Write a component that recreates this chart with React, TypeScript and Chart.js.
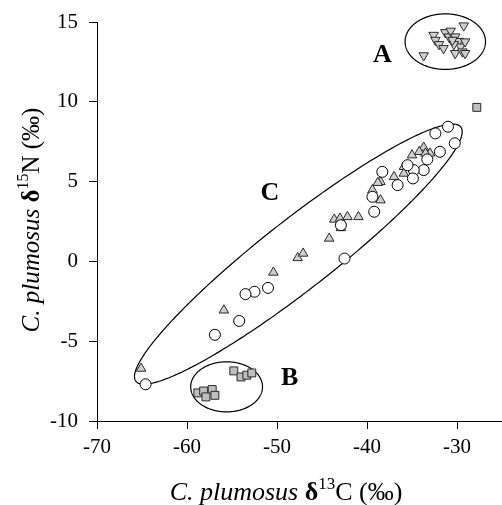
import React, { useEffect, useRef } from 'react';
import { Chart, registerables } from 'chart.js';

Chart.register(...registerables);

// Axis ticks
const xTicks = [-70, -60, -50, -40, -30];
const yTicks = [-10, -5, 0, 5, 10, 15];

// Group A: inverted triangles
const aX = [-33.7, -32.6, -32.4, -32.0, -31.5, -31.3, -30.9, -30.7, -30.2, -29.8, -29.25, -29.6, -29.1, -30.2, -29.4, -29.1, -30.35, -30.5];
const aY = [12.9, 14.18, 13.87, 13.6, 13.35, 14.35, 14.08, 14.44, 14.08, 13.8, 14.77, 13.45, 13.77, 13.04, 13.14, 13.04, 13.6, 13.87];

// Group C: open circles
const cCircX = [-31.0, -32.4, -30.25, -31.9, -33.3, -33.7, -34.8, -34.9, -35.5, -38.3, -36.6, -39.4, -39.2, -42.9, -42.5, -51.0, -52.5, -53.5, -54.2, -56.9, -64.6];
const cCircY = [8.44, 8.02, 7.4, 6.87, 6.39, 5.72, 5.72, 5.2, 6.03, 5.61, 4.78, 4.05, 3.11, 2.27, 0.18, -1.66, -1.9, -2.05, -3.73, -4.6, -7.7];

// Group C: triangles
const cTriX = [-33.7, -34.2, -35.0, -33.0, -33.5, -35.9, -35.9, -37.0, -38.5, -38.8, -39.4, -38.5, -43.64, -43.0, -42.17, -40.95, -44.2, -42.9, -47.7, -47.1, -50.4, -55.9, -65.1];
const cTriY = [7.14, 6.87, 6.66, 6.77, 6.77, 5.93, 5.51, 5.3, 4.99, 4.93, 4.47, 3.84, 2.63, 2.69, 2.79, 2.79, 1.44, 2.1, 0.22, 0.5, -0.69, -3.06, -6.71];

// Group B: squares (plus one outlier)
const bX = [-54.8, -54.0, -53.35, -52.8, -58.8, -58.15, -57.2, -57.9, -56.9, -27.8];
const bY = [-6.86, -7.24, -7.13, -6.99, -8.24, -8.12, -8.03, -8.49, -8.39, 9.65];

// Ellipses (data units): center, end of first semi-axis, end of second semi-axis
const ellipseNames = ['A', 'B', 'C'];
const ellipseCenter = [[-31.3, 13.77], [-55.6, -7.86], [-47.63, 0.455]];
const ellipseAxis1 = [[-26.83, 13.77], [-51.61, -7.86], [-29.58, 8.42]];
const ellipseAxis2 = [[-31.3, 15.51], [-55.6, -6.29], [-50.01, 2.18]];

// Group labels (data units)
const labelText = ['A', 'B', 'C'];
const labelPos = [[-38.3, 12.93], [-48.6, -7.32], [-50.8, 4.28]];

const FONT = '"Liberation Serif", "Times New Roman", serif';

const toPts = (xs: number[], ys: number[]) => xs.map((x, i) => ({ x, y: ys[i] }));

type Seg = { t: string; style?: string; weight?: string; sup?: boolean };

function drawRich(ctx: CanvasRenderingContext2D, segs: Seg[], size: number) {
  const fontOf = (s: Seg) => {
    const sz = s.sup ? Math.round(size * 0.65) : size;
    return `${s.style || 'normal'} ${s.weight || 'normal'} ${sz}px ${FONT}`;
  };
  let total = 0;
  const widths = segs.map((s) => {
    ctx.font = fontOf(s);
    const w = ctx.measureText(s.t).width;
    total += w;
    return w;
  });
  let x = -total / 2;
  segs.forEach((s, i) => {
    ctx.font = fontOf(s);
    ctx.textAlign = 'left';
    ctx.textBaseline = 'alphabetic';
    ctx.fillText(s.t, x, s.sup ? -size * 0.42 : 0);
    x += widths[i];
  });
}

const overlayPlugin = {
  id: 'overlay',
  beforeDatasetsDraw(chart: any) {
    const { ctx, scales } = chart;
    const xs = scales.x;
    const ys = scales.y;
    ctx.save();
    ctx.strokeStyle = '#000';
    ctx.lineWidth = 1.2;
    ellipseNames.forEach((_, k) => {
      const cx = xs.getPixelForValue(ellipseCenter[k][0]);
      const cy = ys.getPixelForValue(ellipseCenter[k][1]);
      const ax = xs.getPixelForValue(ellipseAxis1[k][0]) - cx;
      const ay = ys.getPixelForValue(ellipseAxis1[k][1]) - cy;
      const bx = xs.getPixelForValue(ellipseAxis2[k][0]) - cx;
      const by = ys.getPixelForValue(ellipseAxis2[k][1]) - cy;
      ctx.beginPath();
      for (let i = 0; i <= 360; i++) {
        const t = (i * Math.PI) / 180;
        const px = cx + ax * Math.cos(t) + bx * Math.sin(t);
        const py = cy + ay * Math.cos(t) + by * Math.sin(t);
        if (i === 0) ctx.moveTo(px, py);
        else ctx.lineTo(px, py);
      }
      ctx.closePath();
      ctx.stroke();
    });
    ctx.restore();
  },
  afterDraw(chart: any) {
    const { ctx, scales } = chart;
    const xs = scales.x;
    const ys = scales.y;
    ctx.save();
    ctx.fillStyle = '#000';
    ctx.font = `bold 26px ${FONT}`;
    ctx.textAlign = 'center';
    ctx.textBaseline = 'middle';
    labelText.forEach((t, k) => {
      ctx.fillText(t, xs.getPixelForValue(labelPos[k][0]), ys.getPixelForValue(labelPos[k][1]));
    });
    // X axis title
    ctx.save();
    ctx.translate(286, 500);
    drawRich(ctx, [
      { t: 'C. plumosus ', style: 'italic' },
      { t: 'δ', weight: 'bold' },
      { t: '13', sup: true },
      { t: 'C (‰)' },
    ], 26);
    ctx.restore();
    // Y axis title
    ctx.save();
    ctx.translate(38.5, 220);
    ctx.rotate(-Math.PI / 2);
    drawRich(ctx, [
      { t: 'C. plumosus ', style: 'italic' },
      { t: 'δ', weight: 'bold' },
      { t: '15', sup: true },
      { t: 'N (‰)' },
    ], 25);
    ctx.restore();
    ctx.restore();
  },
};

export default function App() {
  const ref = useRef<HTMLCanvasElement | null>(null);
  useEffect(() => {
    if (!ref.current) return;
    const triFill = '#cfcfcf';
    const edge = '#2a2a2a';
    const chart = new Chart(ref.current, {
      type: 'scatter',
      data: {
        datasets: [
          {
            label: 'C circles',
            data: toPts(cCircX, cCircY),
            pointStyle: 'circle',
            pointRadius: 5.5,
            backgroundColor: '#ffffff',
            borderColor: '#000',
            borderWidth: 1,
          },
          {
            label: 'C triangles',
            data: toPts(cTriX, cTriY),
            pointStyle: 'triangle',
            pointRadius: 5.5,
            backgroundColor: triFill,
            borderColor: edge,
            borderWidth: 1,
          },
          {
            label: 'A',
            data: toPts(aX, aY),
            pointStyle: 'triangle',
            rotation: 180,
            pointRadius: 5.5,
            backgroundColor: triFill,
            borderColor: edge,
            borderWidth: 1,
          },
          {
            label: 'B',
            data: toPts(bX, bY),
            pointStyle: 'rect',
            pointRadius: 5.6,
            backgroundColor: '#bebebe',
            borderColor: edge,
            borderWidth: 1,
          },
        ] as any,
      },
      options: {
        animation: false,
        responsive: false,
        clip: false as any,
        layout: { autoPadding: false, padding: { top: 22, right: 0, left: 0, bottom: 0 } } as any,
        plugins: {
          legend: { display: false },
          tooltip: { enabled: false },
        },
        scales: {
          x: {
            type: 'linear',
            min: -70,
            max: -25,
            afterBuildTicks: (s: any) => {
              s.ticks = xTicks.map((v) => ({ value: v }));
            },
            afterFit: (s: any) => {
              s.height = 84;
              s.paddingLeft = 0;
              s.paddingRight = 0;
            },
            ticks: {
              color: '#000',
              font: { family: FONT, size: 21 },
              padding: 6,
            },
            grid: {
              drawOnChartArea: false,
              drawTicks: true,
              tickLength: 8,
              color: '#000',
              lineWidth: 1,
            },
            border: { display: true, color: '#000', width: 1 },
          },
          y: {
            type: 'linear',
            min: -10,
            max: 15,
            afterBuildTicks: (s: any) => {
              s.ticks = yTicks.map((v) => ({ value: v }));
            },
            afterFit: (s: any) => {
              s.width = 97;
              s.paddingTop = 0;
              s.paddingBottom = 0;
            },
            ticks: {
              color: '#000',
              font: { family: FONT, size: 21 },
              padding: 11,
            },
            grid: {
              drawOnChartArea: false,
              drawTicks: true,
              tickLength: 8,
              color: '#000',
              lineWidth: 1,
            },
            border: { display: true, color: '#000', width: 1 },
          },
        },
      },
      plugins: [overlayPlugin],
    });
    return () => chart.destroy();
  }, []);
  return (
    <div style={{ position: 'absolute', left: 0, top: 0, width: 502, height: 505, background: '#fff' }}>
      <canvas ref={ref} width={502} height={505} style={{ display: 'block' }} />
    </div>
  );
}
